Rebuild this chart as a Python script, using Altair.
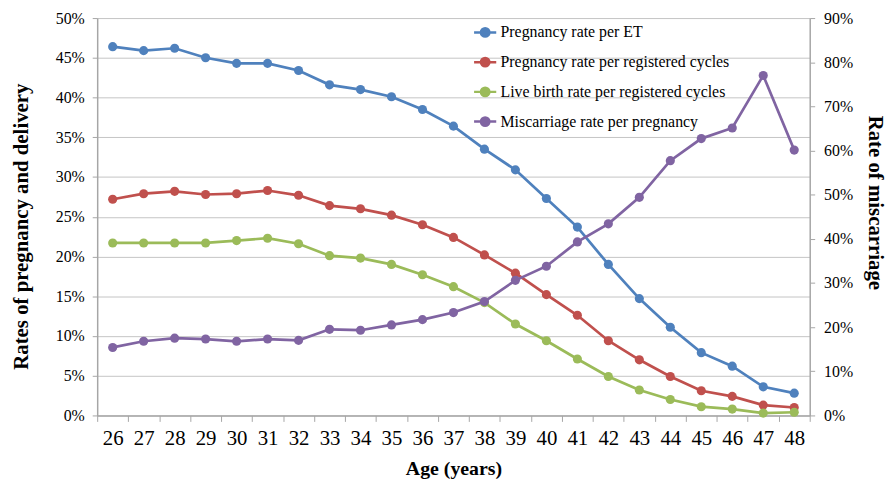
import altair as alt
import pandas as pd

ages = list(range(26, 49))
series_names = [
    "Pregnancy rate per ET",
    "Pregnancy rate per registered cycles",
    "Live birth rate per registered cycles",
    "Miscarriage rate per pregnancy",
]
colors = ["#4F81BD", "#C0504D", "#9BBB59", "#8064A2"]

preg_per_et = [46.4, 45.9, 46.2, 45.0, 44.3, 44.3, 43.4, 41.6, 41.0, 40.1, 38.5, 36.4,
               33.5, 30.9, 27.3, 23.7, 19.0, 14.7, 11.1, 7.9, 6.2, 3.6, 2.8]
preg_per_cycle = [27.2, 27.9, 28.2, 27.8, 27.9, 28.3, 27.7, 26.4, 26.0, 25.2, 24.0, 22.4,
                  20.2, 17.9, 15.2, 12.6, 9.4, 7.0, 4.9, 3.1, 2.4, 1.3, 1.0]
live_birth_per_cycle = [21.7, 21.7, 21.7, 21.7, 22.0, 22.3, 21.6, 20.1, 19.8, 19.0, 17.7, 16.2,
                        14.2, 11.5, 9.4, 7.1, 4.9, 3.2, 2.0, 1.1, 0.8, 0.3, 0.4]
miscarriage = [15.4, 16.8, 17.5, 17.3, 16.8, 17.3, 17.0, 19.5, 19.3, 20.5, 21.7, 23.3,
               25.8, 30.6, 33.8, 39.3, 43.4, 49.4, 57.7, 62.7, 65.1, 77.0, 60.1]

rows = []
for name, vals in zip(series_names, [preg_per_et, preg_per_cycle, live_birth_per_cycle, miscarriage]):
    for a, v in zip(ages, vals):
        rows.append({"age": a, "series": name, "value": v / 100.0})
df = pd.DataFrame(rows)

FONT = "Times New Roman, Liberation Serif, serif"

legend_symbol = "M-1,0L1,0M-0.38,0A0.38,0.38,0,1,1,0.38,0A0.38,0.38,0,1,1,-0.38,0Z"
color_scale = alt.Scale(domain=series_names, range=colors)

legend = alt.Legend(
    title=None,
    orient="none",
    legendX=379,
    legendY=2,
    symbolType=legend_symbol,
    symbolSize=500,
    symbolStrokeWidth=2.5,
    symbolOpacity=1,
    labelFont=FONT,
    labelFontSize=16,
    labelColor="black",
    labelOffset=3,
    rowPadding=8,
    labelLimit=400,
)

x_enc = alt.X(
    "age:O",
    bandPosition=0.5,
    scale=alt.Scale(type="band", paddingInner=0, paddingOuter=0),
    axis=alt.Axis(
        title="Age (years)",
        labelAngle=0,
        tickBand="extent",
        tickSize=6,
        labelFontSize=21,
        labelPadding=6,
        titleFontSize=20,
        titlePadding=11,
        grid=False,
    ),
)

y_left = alt.Y(
    "value:Q",
    scale=alt.Scale(domain=[0, 0.5], nice=False),
    axis=alt.Axis(
        title="Rates of pregnancy and delivery",
        format=".0%",
        values=[i * 0.05 for i in range(11)],
        tickSize=5,
        labelPadding=8,
        labelFontSize=16,
        titleFontSize=21,
        titlePadding=24,
        titleY=210,
        grid=True,
    ),
)

y_right = alt.Y(
    "value:Q",
    scale=alt.Scale(domain=[0, 0.9], nice=False),
    axis=alt.Axis(
        title="Rate of miscarriage",
        orient="right",
        format=".0%",
        values=[i * 0.1 for i in range(10)],
        tickSize=5,
        labelPadding=9,
        labelFontSize=16,
        titleFontSize=21,
        titlePadding=12,
        titleY=186,
        grid=False,
    ),
)


def side(names, y_enc):
    base = alt.Chart(df).transform_filter(
        alt.FieldOneOfPredicate(field="series", oneOf=names)
    )
    return base.mark_line(
        strokeWidth=2.75,
        point=alt.OverlayMarkDef(filled=True, size=85, opacity=1),
    ).encode(
        x=x_enc, y=y_enc,
        color=alt.Color("series:N", scale=color_scale, legend=legend),
    )


left = side(series_names[:3], y_left)
right = side(series_names[3:], y_right)

chart = alt.layer(left, right).resolve_scale(y="independent").properties(
    width=719,
    height=401,
    autosize=alt.AutoSizeParams(type="none"),
    padding={"left": 90, "top": 8, "right": 79, "bottom": 63},
).configure_view(stroke=None).configure_axis(
    labelFont=FONT,
    titleFont=FONT,
    titleFontWeight="bold",
    labelColor="black",
    titleColor="black",
    domainColor="#a6a6a6",
    tickColor="#a6a6a6",
    gridColor="#c4c4c4",
    domainWidth=1.5,
)

chart.save("out.html", embed_options={"renderer": "svg", "actions": False})
